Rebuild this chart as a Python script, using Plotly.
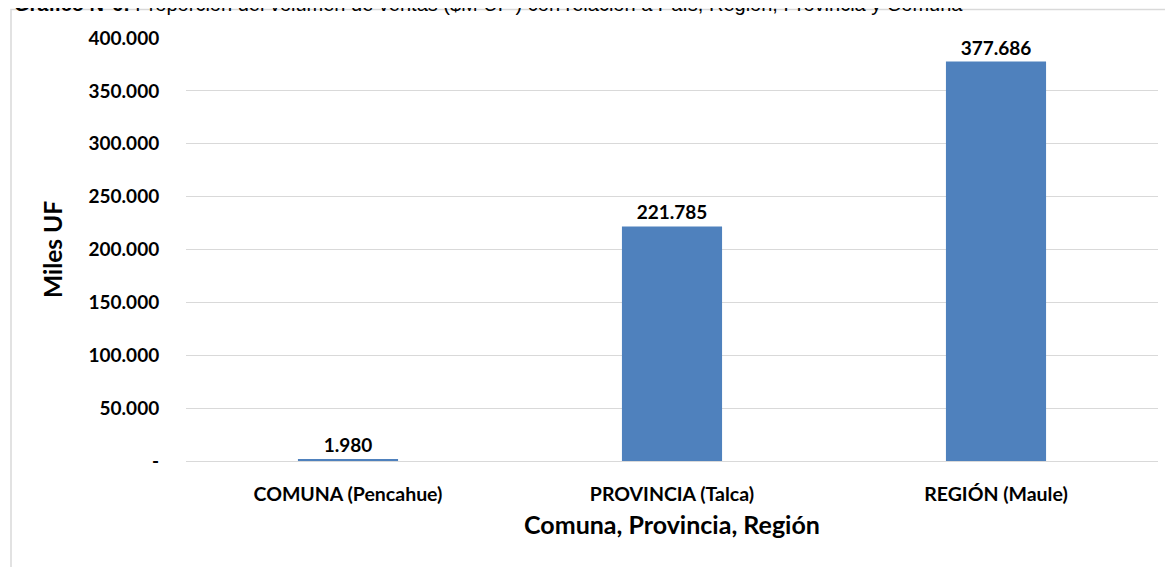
import plotly.graph_objects as go

categories = ["COMUNA (Pencahue)", "PROVINCIA (Talca)", "REGIÓN (Maule)"]
values = [1980, 221785, 377686]
value_labels = ["1.980", "221.785", "377.686"]
tick_vals = [0, 50000, 100000, 150000, 200000, 250000, 300000, 350000, 400000]
tick_text = ["-", "50.000", "100.000", "150.000", "200.000", "250.000", "300.000", "350.000", "400.000"]
title_text = "<b>Gráfico N°6:</b> Proporción del volumen de ventas ($M UF ) con relación a País, Región, Provincia y Comuna"

# page has an 8px body margin; figure coords = page coords - 8
W, H = 1165, 559
L, R, T, B = 178, 15, 30, 106
pw, ph = W - L - R, H - T - B

def px_x(x):
    return (x - L) / pw

def px_y(y):
    return (H - B - y) / ph

fig = go.Figure(go.Bar(
    x=categories, y=values, width=0.309,
    marker=dict(color="#4f81bd", line=dict(width=0)),
    text=value_labels, textposition="outside", cliponaxis=False,
    textfont=dict(family="Lato", size=19, color="black", weight="bold"),
))

fig.update_layout(
    width=W, height=H,
    margin=dict(l=L, r=R, t=T, b=B, autoexpand=False),
    paper_bgcolor="white", plot_bgcolor="white",
    showlegend=False,
    font=dict(family="Lato", color="black"),
    xaxis=dict(
        title=dict(text="<b>Comuna, Provincia, Región</b>", font=dict(size=25), standoff=12),
        tickfont=dict(size=19.5, weight="bold"),
        showgrid=False, showline=False,
        ticks="outside", ticklen=16, tickcolor="white",
        automargin=False,
    ),
    yaxis=dict(
        title=dict(text="<b>Miles UF</b>", font=dict(size=24.5), standoff=18),
        range=[0, 400000],
        tickvals=tick_vals, ticktext=tick_text,
        tickfont=dict(size=19, weight="bold"),
        showgrid=True, gridcolor="#d9d9d9", gridwidth=1,
        zeroline=True, zerolinecolor="#d9d9d9", zerolinewidth=1,
        showline=False, ticks="outside", ticklen=22, tickcolor="white",
        automargin=False,
    ),
    shapes=[dict(
        type="rect", xref="paper", yref="paper",
        x0=px_x(3), x1=px_x(1200), y0=px_y(600), y1=px_y(1.5),
        line=dict(color="#d9d9d9", width=1.5), fillcolor="rgba(0,0,0,0)", layer="below",
    )],
    annotations=[dict(
        text=title_text, xref="paper", yref="paper",
        x=px_x(4), y=px_y(9), xanchor="left", yanchor="bottom",
        showarrow=False, font=dict(family="Liberation Sans", size=20, color="black"),
    )],
)

fig.write_html("out.html")
